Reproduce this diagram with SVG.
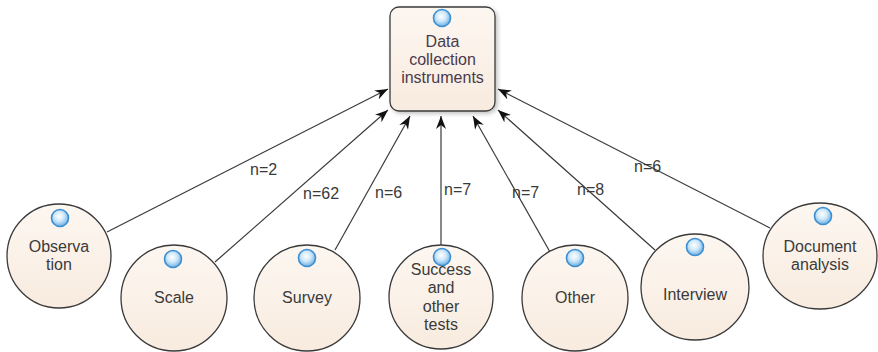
<svg xmlns="http://www.w3.org/2000/svg" width="878" height="352" viewBox="0 0 878 352">
<style>
.node{fill:url(#fillG);stroke:#3a3a3a;stroke-width:1.3}
.lbl{font-family:"Liberation Sans",Arial,sans-serif;font-size:16px;fill:#3a3a3a;text-anchor:middle}
.title{fill:#4a3a4e}
.edge{stroke:#3a3a3a;stroke-width:1.2;fill:none;marker-end:url(#arr)}
.elbl{font-family:"Liberation Sans",Arial,sans-serif;font-size:16px;fill:#3a3a3a}
.dot{fill:url(#dotG);stroke:#3d8fd1;stroke-width:1.6}
</style>
<defs>
<linearGradient id="fillG" x1="0" y1="0" x2="0" y2="1">
<stop offset="0" stop-color="#fdf7f1"/>
<stop offset="1" stop-color="#f8ebdf"/>
</linearGradient>
<radialGradient id="dotG" cx="0.45" cy="0.4" r="0.65">
<stop offset="0" stop-color="#ffffff"/>
<stop offset="0.45" stop-color="#cfe8fa"/>
<stop offset="1" stop-color="#5aa6df"/>
</radialGradient>
<filter id="sh" x="-20%" y="-20%" width="140%" height="140%">
<feGaussianBlur in="SourceAlpha" stdDeviation="2"/>
<feOffset dx="2" dy="2"/>
<feComponentTransfer><feFuncA type="linear" slope="0.25"/></feComponentTransfer>
<feMerge><feMergeNode/><feMergeNode in="SourceGraphic"/></feMerge>
</filter>
<marker id="arr" viewBox="0 0 13 10" refX="13" refY="5" markerWidth="13" markerHeight="10" markerUnits="userSpaceOnUse" orient="auto">
<path d="M0,0 L13,5 L0,10 L4,5 z" fill="#111"/>
</marker>
</defs>
<rect width="878" height="352" fill="#ffffff"/>

<g id="connectors">
<line class="edge" x1="107" y1="232" x2="388" y2="89"/>
<line class="edge" x1="215" y1="262" x2="388" y2="110"/>
<line class="edge" x1="335" y1="250" x2="410" y2="116"/>
<line class="edge" x1="441" y1="245" x2="441" y2="116"/>
<line class="edge" x1="550" y1="252" x2="473" y2="116"/>
<line class="edge" x1="655" y1="250" x2="498" y2="110"/>
<line class="edge" x1="770" y1="228" x2="498" y2="89"/>
<text class="elbl" x="250" y="175">n=2</text>
<text class="elbl" x="303" y="199">n=62</text>
<text class="elbl" x="375" y="198">n=6</text>
<text class="elbl" x="444" y="195">n=7</text>
<text class="elbl" x="512" y="198">n=7</text>
<text class="elbl" x="577" y="195">n=8</text>
<text class="elbl" x="634" y="172">n=6</text>
</g>

<g id="data-collection-instruments">
<rect class="node" x="390" y="7" width="105" height="104" rx="9" filter="url(#sh)"/>
<circle class="dot" cx="442" cy="18" r="8.5"/>
<text class="lbl title" x="442.5" y="47">Data</text>
<text class="lbl title" x="442.5" y="65">collection</text>
<text class="lbl title" x="442.5" y="83">instruments</text>
</g>

<g id="observation">
<circle class="node" cx="59" cy="256" r="52"/>
<circle class="dot" cx="60" cy="218" r="8.5"/>
<text class="lbl" x="59" y="252">Observa</text>
<text class="lbl" x="59" y="270">tion</text>
</g>

<g id="scale">
<circle class="node" cx="174" cy="298" r="53"/>
<circle class="dot" cx="173" cy="259" r="8.5"/>
<text class="lbl" x="174" y="303">Scale</text>
</g>

<g id="survey">
<circle class="node" cx="307" cy="298" r="53"/>
<circle class="dot" cx="307" cy="258" r="8.5"/>
<text class="lbl" x="307" y="303">Survey</text>
</g>

<g id="success-and-other-tests">
<circle class="node" cx="441" cy="297" r="52"/>
<circle class="dot" cx="442" cy="257" r="8.5"/>
<text class="lbl" x="441" y="275">Success</text>
<text class="lbl" x="441" y="293">and</text>
<text class="lbl" x="441" y="312">other</text>
<text class="lbl" x="441" y="330">tests</text>
</g>

<g id="other">
<circle class="node" cx="575" cy="298" r="53"/>
<circle class="dot" cx="575" cy="258" r="8.5"/>
<text class="lbl" x="575" y="303">Other</text>
</g>

<g id="interview">
<ellipse class="node" cx="695" cy="287" rx="54" ry="53"/>
<circle class="dot" cx="695" cy="247" r="8.5"/>
<text class="lbl" x="695" y="300">Interview</text>
</g>

<g id="document-analysis">
<ellipse class="node" cx="820" cy="256" rx="57" ry="53"/>
<circle class="dot" cx="823" cy="216" r="8.5"/>
<text class="lbl" x="820" y="252">Document</text>
<text class="lbl" x="820" y="270">analysis</text>
</g>
</svg>
